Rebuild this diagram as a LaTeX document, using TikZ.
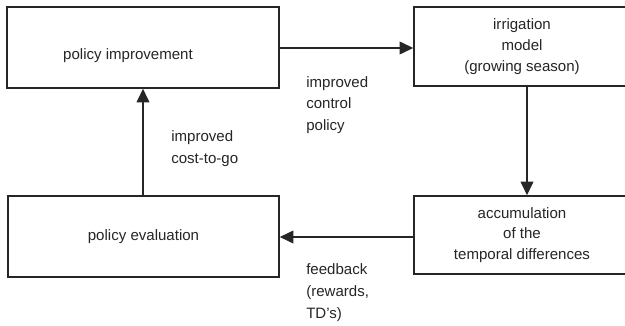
\documentclass[tikz,border=0pt]{standalone}
\usepackage{fontspec}
\setmainfont{Liberation Sans}
\usetikzlibrary{arrows.meta,calc}

\definecolor{inkgray}{HTML}{262626}

\tikzset{
	block/.style={draw=inkgray, line width=1.1pt, rectangle, inner sep=0pt},
	flow/.style={draw=inkgray, line width=0.8pt, -{Triangle[length=3.4mm,width=3.2mm]}},
	note/.style={anchor=west, align=left, inner sep=0pt, text=inkgray, font=\fontsize{10.7}{15.5}\selectfont},
	boxtext/.style={align=center, text=inkgray, font=\fontsize{10.7}{14.8}\selectfont}
}

\begin{document}
\begin{tikzpicture}[x=0.025cm, y=-0.025cm]
	\clip (0,0) rectangle (625,326);
	\fill[white] (0,0) rectangle (625,326);
	% boxes
	\node[block, minimum width=6.8cm, minimum height=2.025cm] (impr) at (143,47.5) {};
	\node[boxtext] (imprtext) at (128,56) {policy improvement};
	\node[block, boxtext, minimum width=5.4cm, minimum height=1.975cm] (irr) at (522,46.5) {irrigation\\model\\(growing season)};
	\node[block, boxtext, minimum width=5.4cm, minimum height=1.95cm] (acc) at (522,235) {accumulation\\of the\\temporal differences};
	\node[block, boxtext, minimum width=6.775cm, minimum height=2.025cm] (eval) at (143.5,236.5) {policy evaluation};
	% connectors
	\draw[flow] (impr.east |- 0,48) -- (irr.west |- 0,48);
	\draw[flow] ($(irr.south)+(5,0)$) -- ($(acc.north)+(5,0)$);
	\draw[flow] (acc.west |- 0,237) -- (eval.east |- 0,237);
	\draw[flow] (eval.north -| 143,0) -- (impr.south -| 143,0);
	% labels
	\node[note] (ctrl) at (306,105) {improved\\control\\policy};
	\node[note] (cost) at (171,148.5) {improved\\cost-to-go};
	\node[note] (fb) at (306,292.5) {feedback\\(rewards,\\TD's)};
\end{tikzpicture}
\end{document}
